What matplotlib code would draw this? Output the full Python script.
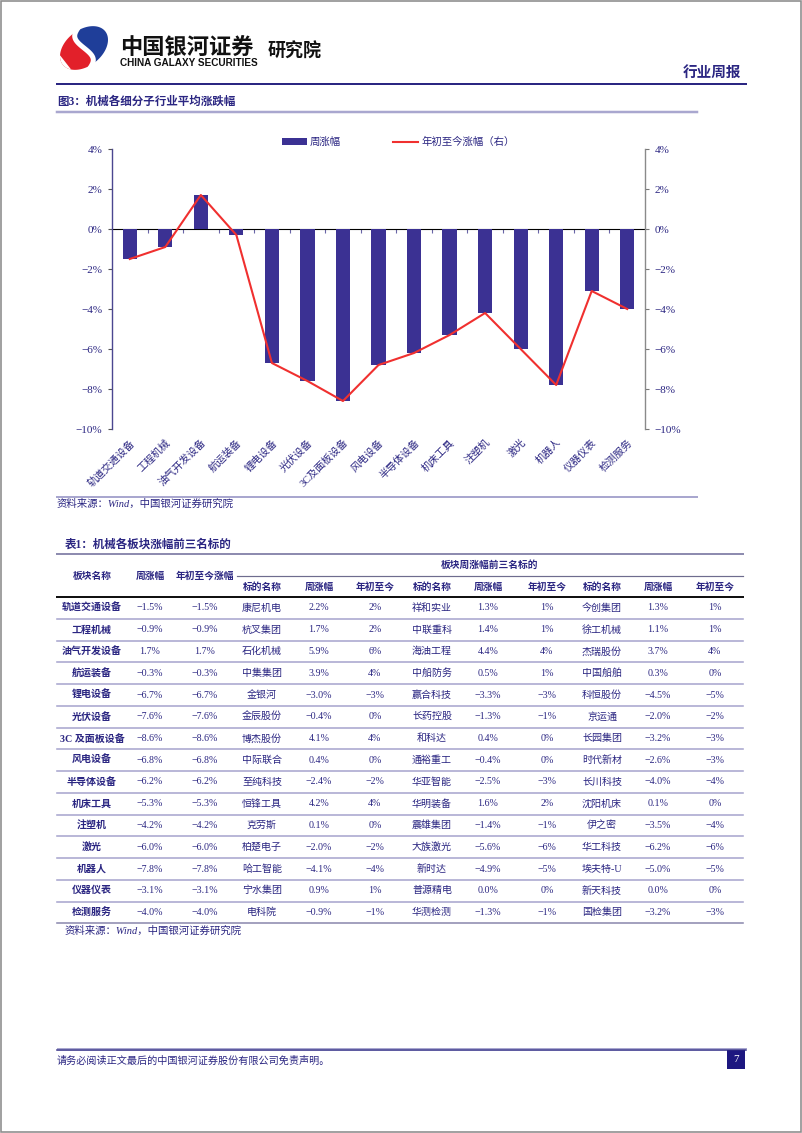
import numpy as np
import matplotlib
matplotlib.use("Agg")
import matplotlib.pyplot as plt
from matplotlib.patches import Rectangle, Polygon, Patch
from matplotlib.lines import Line2D
from matplotlib.ticker import FuncFormatter, FixedLocator

# =====================================
# Datos
# =====================================
sectores = ['轨道交通设备', '工程机械', '油气开发设备', '航运装备', '锂电设备', '光伏设备',
            '3C及面板设备', '风电设备', '半导体设备', '机床工具', '注塑机', '激光',
            '机器人', '仪器仪表', '检测服务']
周涨幅 = [-1.5, -0.9, 1.7, -0.3, -6.7, -7.6, -8.6, -6.8, -6.2, -5.3, -4.2, -6.0, -7.8, -3.1, -4.0]
年初至今 = [-1.5, -0.9, 1.7, -0.3, -6.7, -7.6, -8.6, -6.8, -6.2, -5.3, -4.2, -6.0, -7.8, -3.1, -4.0]
y_ticks = [4, 2, 0, -2, -4, -6, -8, -10]

top1_name = ['康尼机电', '杭叉集团', '石化机械', '中集集团', '金银河', '金辰股份', '博杰股份', '中际联合',
             '至纯科技', '恒锋工具', '克劳斯', '柏楚电子', '哈工智能', '宁水集团', '电科院']
top1_week = [2.2, 1.7, 5.9, 3.9, -3.0, -0.4, 4.1, 0.4, -2.4, 4.2, 0.1, -2.0, -4.1, 0.9, -0.9]
top1_ytd = [2, 2, 6, 4, -3, 0, 4, 0, -2, 4, 0, -2, -4, 1, -1]
top2_name = ['祥和实业', '中联重科', '海油工程', '中船防务', '赢合科技', '长药控股', '和科达', '通裕重工',
             '华亚智能', '华明装备', '震雄集团', '大族激光', '新时达', '普源精电', '华测检测']
top2_week = [1.3, 1.4, 4.4, 0.5, -3.3, -1.3, 0.4, -0.4, -2.5, 1.6, -1.4, -5.6, -4.9, 0.0, -1.3]
top2_ytd = [1, 1, 4, 1, -3, -1, 0, 0, -3, 2, -1, -6, -5, 0, -1]
top3_name = ['今创集团', '徐工机械', '杰瑞股份', '中国船舶', '科恒股份', '京运通', '长园集团', '时代新材',
             '长川科技', '沈阳机床', '伊之密', '华工科技', '埃夫特-U', '新天科技', '国检集团']
top3_week = [1.3, 1.1, 3.7, 0.3, -4.5, -2.0, -3.2, -2.6, -4.0, 0.1, -3.5, -6.2, -5.0, 0.0, -3.2]
top3_ytd = [1, 1, 4, 0, -5, -2, -3, -3, -4, 0, -4, -6, -5, 0, -3]

# =====================================
# Estilo
# =====================================
FONTS = ['Liberation Serif', 'Noto Sans CJK SC']
plt.rcParams['font.family'] = FONTS
NAVY = '#2B2682'
BAR = '#3B3193'
RED = '#F0302F'
LIGHT = '#A9A7CF'

W, H = 802, 1133
fig = plt.figure(figsize=(W / 100, H / 100), dpi=100)

# lienzo de pagina en pixeles
pg = fig.add_axes([0, 0, 1, 1])
pg.set_xlim(0, W)
pg.set_ylim(H, 0)
pg.axis('off')


def px(v):
    return v * 0.72


def fmt_pct(v, nd=1):
    s = f"{v:.{nd}f}%"
    if s.startswith('-'):
        s = '−' + s[1:]
    if s in ('−0%', '−0.0%'):
        s = s[1:]
    return s


# borde de la pagina
pg.add_patch(Rectangle((0.8, 0.8), W - 1.6, H - 1.6, fill=False, ec='#8C8C8C', lw=px(1.6)))

# =====================================
# Cabecera
# =====================================
cx, cy, a, b, phi = 84, 48, 27, 18, np.deg2rad(-38)


def elipse(t0, t1, n=60):
    t = np.linspace(np.deg2rad(t0), np.deg2rad(t1), n)
    xs = cx + a * np.cos(t) * np.cos(phi) - b * np.sin(t) * np.sin(phi)
    ys = cy + a * np.cos(t) * np.sin(phi) + b * np.sin(t) * np.cos(phi)
    return np.column_stack([xs, ys])


pg.add_patch(Polygon(np.vstack([elipse(90, 270), [[cx, cy]]]), color='#E2202A', lw=0))
pg.add_patch(Polygon(np.vstack([elipse(-90, 90), [[cx, cy]]]), color='#1F3E99', lw=0))
# curva blanca en S
t = np.linspace(-1, 1, 40)
sx = cx + 10 * np.sin(np.pi * t) * 0.6 + t * 6
sy = cy + t * 20
pg.plot(sx, sy, color='white', lw=px(5), solid_capstyle='round')
pg.add_patch(Polygon(elipse(150, 210), color='white', lw=0))

pg.text(120, 48, '中国银河证券', fontsize=16, fontweight='bold', color='#111111',
        family=['Noto Sans CJK SC'], va='center', ha='left')
pg.text(120, 63, 'CHINA GALAXY SECURITIES', fontsize=7.2, fontweight='bold', color='#111111',
        family=['Liberation Sans'], va='center', ha='left')
pg.text(268, 51, '研究院', fontsize=13, fontweight='bold', color='#111111',
        family=['Noto Sans CJK SC'], va='center', ha='left')
pg.text(741, 72, '行业周报', fontsize=10.5, fontweight='bold', color=NAVY,
        family=['Noto Sans CJK SC'], va='center', ha='right')
pg.plot([57, 746], [84, 84], color=NAVY, lw=px(2))

# =====================================
# Grafico
# =====================================
pg.text(57, 102, '图3：机械各细分子行业平均涨跌幅', fontsize=8.3, fontweight='bold', color=NAVY,
        va='center', ha='left')
pg.plot([57, 697], [112, 112], color=LIGHT, lw=px(2.5))

ax = fig.add_axes([112 / W, 1 - 429 / H, 533 / W, 280 / H])
x = np.arange(len(sectores))
ax.bar(x, 周涨幅, width=0.4, color=BAR, zorder=2)
ax.set_xlim(-0.5, len(sectores) - 0.5)
ax.set_ylim(-10, 4)
ax.set_yticks(y_ticks)
ax.yaxis.set_major_formatter(FuncFormatter(lambda v, p: fmt_pct(v, 0)))
ax.tick_params(axis='y', colors=NAVY, labelsize=8, length=3, width=0.8, pad=4)
ax.tick_params(axis='y', color='#555555')
ax.set_xticks(x)
ax.set_xticklabels(sectores, rotation=45, ha='right', va='top', rotation_mode='anchor',
                   fontsize=7.4, color=NAVY)
ax.tick_params(axis='x', length=0, pad=6)
for s in ['top', 'right', 'bottom']:
    ax.spines[s].set_visible(False)
ax.spines['left'].set_color('#4B4690')
ax.spines['left'].set_linewidth(1.0)
ax.patch.set_alpha(0)

ax2 = ax.twinx()
ax2.plot(x, 年初至今, color=RED, lw=1.5, zorder=3)
ax2.set_ylim(-10, 4)
ax2.set_yticks(y_ticks)
ax2.yaxis.set_major_formatter(FuncFormatter(lambda v, p: fmt_pct(v, 0)))
ax2.tick_params(axis='y', colors=NAVY, labelsize=8, length=3, width=0.8, pad=4)
ax2.tick_params(axis='y', color='#777777')
for s in ['top', 'left', 'bottom']:
    ax2.spines[s].set_visible(False)
ax2.spines['right'].set_color('#8A8A8A')
ax2.spines['right'].set_linewidth(1.0)

# eje en 0% con marcas entre categorias
lo, hi = ax.get_ylim()
sec = ax.secondary_xaxis((0 - lo) / (hi - lo))
sec.xaxis.set_major_locator(FixedLocator(np.arange(0.5, len(sectores) - 1, 1)))
sec.set_xticklabels([])
sec.tick_params(direction='in', length=3, color='#6A66A8', width=0.8)
sec.spines['bottom'].set_color('#6A66A8')
sec.spines['bottom'].set_linewidth(0.8)

handles = [Patch(facecolor=BAR, label='周涨幅'),
           Line2D([0], [0], color=RED, lw=1.5, label='年初至今涨幅（右）')]
leg = fig.legend(handles=handles, ncol=2, loc='center', bbox_to_anchor=(398 / W, 1 - 142 / H),
                 frameon=False, fontsize=7.5, handlelength=2.4, handleheight=0.6,
                 columnspacing=5.0, handletextpad=0.3)
for t_ in leg.get_texts():
    t_.set_color(NAVY)

pg.plot([57, 697], [497, 497], color=LIGHT, lw=px(2))
pg.text(57, 504, '资料来源：Wind，中国银河证券研究院', fontsize=7.5, style='italic', color=NAVY,
        va='center', ha='left')

# =====================================
# Tabla
# =====================================
pg.text(65, 545, '表1：机械各板块涨幅前三名标的', fontsize=8.3, fontweight='bold', color=NAVY,
        va='center', ha='left')
pg.plot([57, 743], [554, 554], color='#8E8CB0', lw=px(2))

cols = [92, 150, 205, 262, 319, 375, 432, 488, 547, 602, 658, 715]
hdr = dict(fontsize=7, fontweight='bold', color=NAVY, va='center', ha='center')
for xc, lab in zip(cols[:3], ['板块名称', '周涨幅', '年初至今涨幅']):
    pg.text(xc, 576, lab, **hdr)
pg.text(490, 565, '板块周涨幅前三名标的', **hdr)
pg.plot([237, 743], [576, 576], color='#6E6C8E', lw=px(1.2))
for xc, lab in zip(cols[3:], ['标的名称', '周涨幅', '年初至今'] * 3):
    pg.text(xc, 587, lab, **hdr)
pg.plot([57, 743], [597, 597], color='#111111', lw=px(2))

row_h = 21.75
body = dict(fontsize=7.2, color=NAVY, va='center', ha='center')
for i, sec_name in enumerate(sectores):
    yc = 608 + i * row_h
    vals = [fmt_pct(周涨幅[i]), fmt_pct(年初至今[i]),
            top1_name[i], fmt_pct(top1_week[i]), fmt_pct(top1_ytd[i], 0),
            top2_name[i], fmt_pct(top2_week[i]), fmt_pct(top2_ytd[i], 0),
            top3_name[i], fmt_pct(top3_week[i]), fmt_pct(top3_ytd[i], 0)]
    pg.text(cols[0], yc, sec_name.replace('3C', '3C '), fontsize=7.2, fontweight='bold',
            color=NAVY, va='center', ha='center')
    for xc, v in zip(cols[1:], vals):
        pg.text(xc, yc, v, **body)
    pg.plot([57, 743], [yc + row_h / 2, yc + row_h / 2], color=LIGHT if i < len(sectores) - 1 else '#8E8CB0',
            lw=px(1.6))

pg.text(65, 931, '资料来源：Wind，中国银河证券研究院', fontsize=7.5, style='italic', color=NAVY,
        va='center', ha='left')

# =====================================
# Pie de pagina
# =====================================
pg.plot([57, 746], [1048, 1048], color=LIGHT, lw=px(1))
pg.plot([57, 746], [1050, 1050], color=NAVY, lw=px(1.5))
pg.text(57, 1061, '请务必阅读正文最后的中国银河证券股份有限公司免责声明。', fontsize=7.3, color=NAVY,
        va='center', ha='left')
pg.add_patch(Rectangle((727, 1050), 18, 19, color='#1D1780', lw=0))
pg.text(736, 1059.5, '7', fontsize=8, color='white', va='center', ha='center')

fig.savefig('out.png', dpi=100)
